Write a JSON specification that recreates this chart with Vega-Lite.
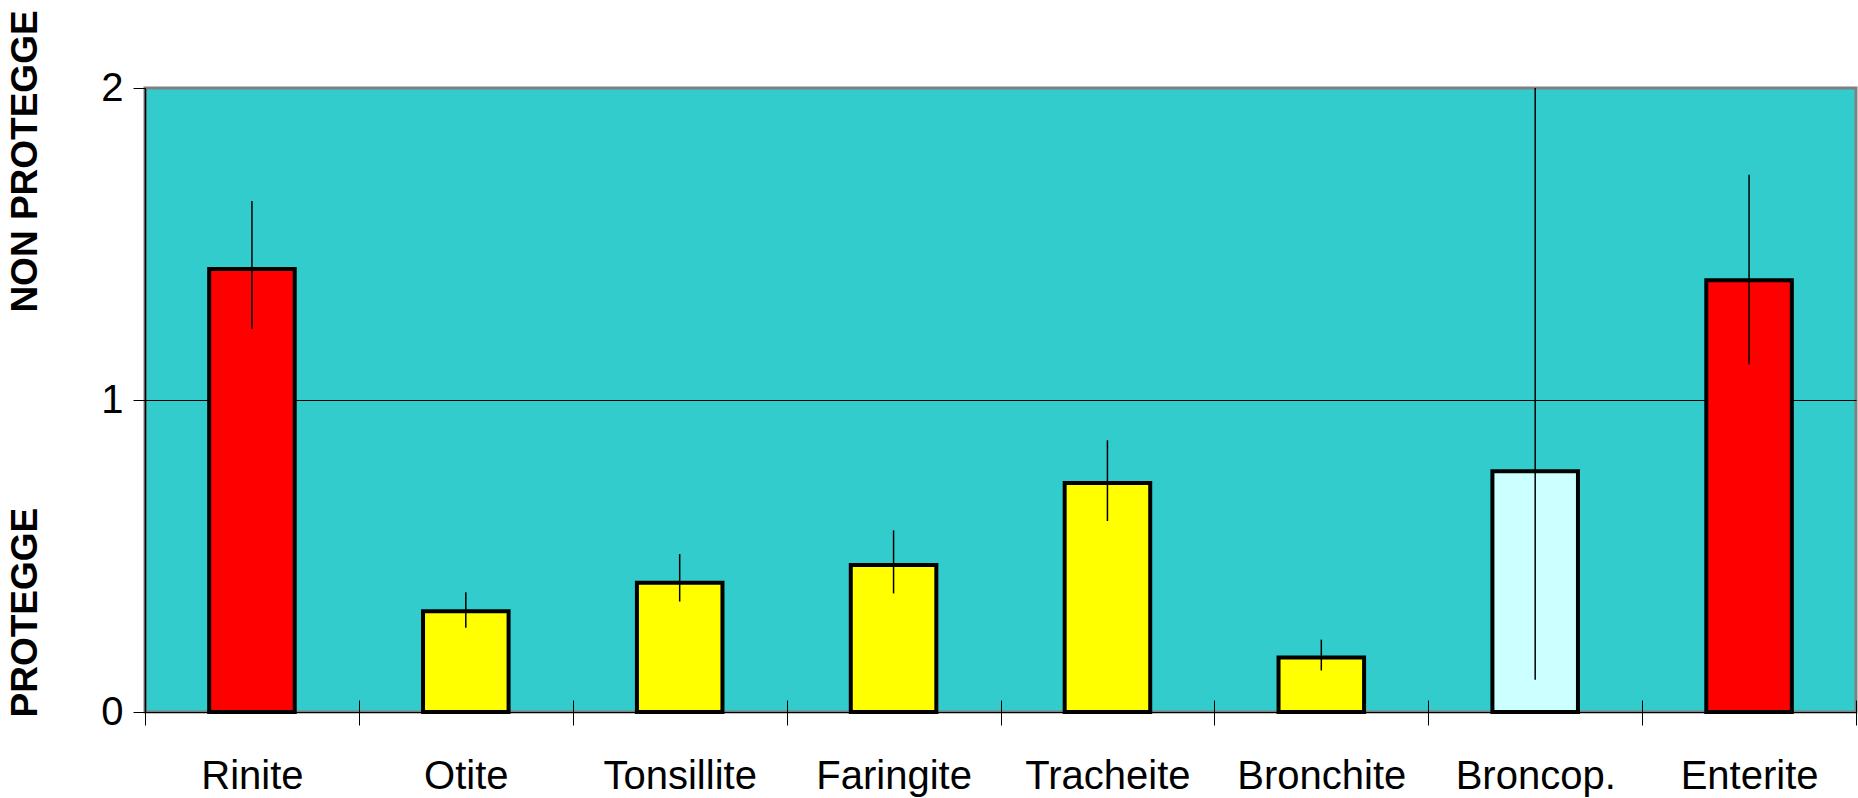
{
  "$schema": "https://vega.github.io/schema/vega-lite/v6.json",
  "width": 1711,
  "height": 624,
  "autosize": "none",
  "padding": {"left": 145, "top": 88, "right": 2, "bottom": 86},
  "background": "white",
  "config": {
    "font": "Liberation Sans",
    "view": {"fill": "#33CCCC", "stroke": "#808080", "strokeWidth": 3}
  },
  "data": {
    "values": [
      {"malattia": "Rinite", "or": 1.42, "low": 1.228, "high": 1.638, "esito": "non protegge"},
      {"malattia": "Otite", "or": 0.323, "low": 0.27, "high": 0.384, "esito": "protegge"},
      {"malattia": "Tonsillite", "or": 0.414, "low": 0.354, "high": 0.506, "esito": "protegge"},
      {"malattia": "Faringite", "or": 0.471, "low": 0.38, "high": 0.582, "esito": "protegge"},
      {"malattia": "Tracheite", "or": 0.734, "low": 0.612, "high": 0.871, "esito": "protegge"},
      {"malattia": "Bronchite", "or": 0.175, "low": 0.133, "high": 0.232, "esito": "protegge"},
      {"malattia": "Broncop.", "or": 0.772, "low": 0.103, "high": 2.0, "esito": "non significativo"},
      {"malattia": "Enterite", "or": 1.384, "low": 1.114, "high": 1.722, "esito": "non protegge"}
    ]
  },
  "encoding": {
    "x": {
      "field": "malattia",
      "type": "nominal",
      "sort": null,
      "scale": {"paddingInner": 0, "paddingOuter": 0},
      "axis": {
        "title": null,
        "domain": false,
        "tickBand": "extent",
        "offset": -12,
        "tickSize": 25,
        "tickColor": "#000000",
        "tickWidth": 1,
        "labelAngle": 0,
        "labelFontSize": 40,
        "labelColor": "#000000",
        "labelPadding": 31,
        "labelLimit": 0
      }
    }
  },
  "layer": [
    {
      "mark": {"type": "bar", "stroke": "#000000", "strokeWidth": 4, "width": {"band": 0.4}},
      "encoding": {
        "y": {
          "field": "or",
          "type": "quantitative",
          "scale": {"domain": [0, 2], "nice": false},
          "axis": {
            "title": null,
            "values": [0, 1, 2],
            "labelExpr": "toString(datum.value)",
            "labelOverlap": false,
            "labelFlush": false,
            "domainColor": "#000000",
            "domainWidth": 1.5,
            "tickColor": "#000000",
            "tickSize": 12,
            "tickWidth": 1,
            "labelFontSize": 40,
            "labelColor": "#000000",
            "labelPadding": 10,
            "grid": false
          }
        },
        "fill": {
          "field": "esito",
          "type": "nominal",
          "scale": {
            "domain": ["non protegge", "protegge", "non significativo"],
            "range": ["#FF0000", "#FFFF00", "#CCFFFF"]
          },
          "legend": null
        }
      }
    },
    {
      "mark": {"type": "rule", "color": "#000000", "strokeWidth": 1.5},
      "encoding": {
        "y": {
          "field": "low",
          "type": "quantitative",
          "axis": {
            "orient": "left",
            "title": null,
            "values": [0, 1],
            "grid": true,
            "gridColor": "#000000",
            "gridWidth": 1.2,
            "gridOpacity": 1,
            "labels": false,
            "ticks": false,
            "domain": false
          }
        },
        "y2": {"field": "high"}
      }
    },
    {
      "mark": {"type": "point", "opacity": 0},
      "encoding": {
        "y": {
          "field": "or",
          "type": "quantitative",
          "axis": {
            "orient": "left",
            "title": null,
            "domain": false,
            "ticks": false,
            "tickSize": 0,
            "grid": false,
            "values": [0.32, 1.766],
            "labelExpr": "datum.value > 1 ? 'NON PROTEGGE' : 'PROTEGGE'",
            "labelAngle": -90,
            "labelAlign": "center",
            "labelBaseline": "bottom",
            "labelFontSize": 37,
            "labelFontWeight": "bold",
            "labelColor": "#000000",
            "labelPadding": 101,
            "labelOverlap": false,
            "labelLimit": 0
          }
        }
      }
    }
  ],
  "resolve": {"axis": {"y": "independent"}}
}
